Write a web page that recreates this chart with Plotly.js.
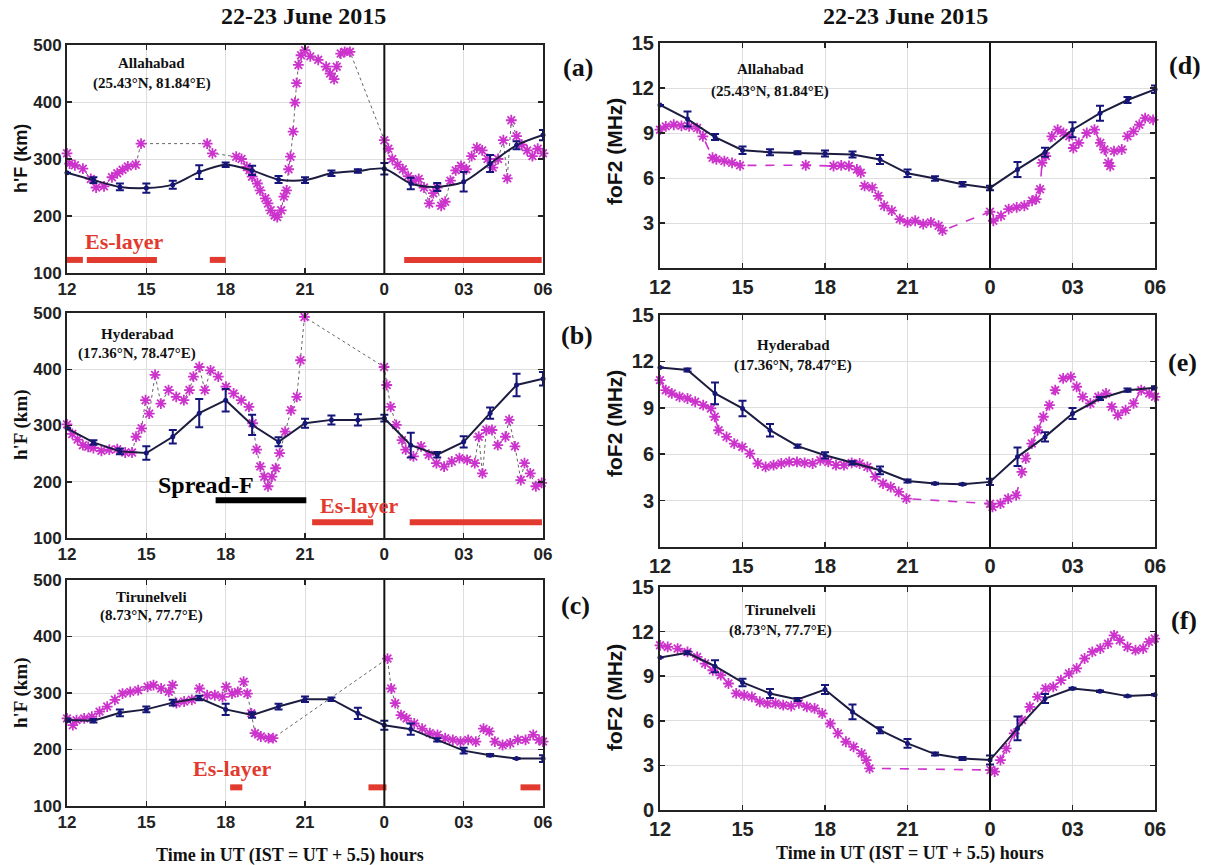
<!DOCTYPE html>
<html><head><meta charset="utf-8">
<script src="https://cdn.plot.ly/plotly-3.0.1.min.js"></script>
<style>html,body{margin:0;padding:0;background:#fff}#chart{width:1213px;height:865px}</style>
</head><body><div id="chart"></div>
<script>
// ---------------- DATA ----------------
const hours = [12,13,14,15,16,17,18,19,20,21,22,23,24,25,26,27,28,29,30];
const xTickVals = [12,15,18,21,24,27,30];
const xTickText = ['12','15','18','21','0','03','06'];
const hfTicks = [100,200,300,400,500];
const fo2TicksTop = [3,6,9,12,15];
const fo2TicksBottom = [0,3,6,9,12,15];

// (a) Allahabad h'F
const aMean = [276,263,251,249,255,277,290,280,264,263,275,279,283,257,251,260,292,324,342];
const aErr  = [0,5,6,8,7,12,4,8,6,5,5,3,10,10,7,17,15,7,9];
const aObsT = [12.0,12.1,12.3,12.6,12.9,13.1,13.4,13.7,13.9,14.1,14.3,14.6,14.8,17.3,17.5,
  18.4,18.6,18.8,18.9,19.0,19.2,19.3,19.5,19.6,19.7,19.85,19.95,20.1,20.2,20.3,20.38,20.45,20.55,20.62,20.68,
  20.75,20.85,21.0,21.2,21.5,21.8,21.95,22.1,22.2,22.35,22.5,22.7,
  24.0,24.15,24.3,24.5,24.7,24.9,25.1,25.3,25.5,25.7,25.85,26.0,26.15,26.3,26.5,26.7,26.9,27.1,27.3,27.5,
  27.7,27.9,28.1,28.3,28.5,28.65,28.8,29.0,29.2,29.4,29.6,29.8,30.0];
const aObsV = [310,292,289,283,265,250,252,268,275,281,287,290,327,327,310,
  304,300,286,280,269,257,245,231,222,210,201,198,210,234,245,282,304,348,399,433,
  465,482,491,480,474,462,450,440,462,485,488,488,
  333,318,300,290,282,270,262,265,250,222,240,250,218,225,262,280,288,282,305,320,
  315,300,285,300,333,266,368,340,325,315,305,318,310];
const aEsStart = [12.0,12.75,17.4,24.75];
const aEsEnd   = [12.6,15.4,18.0,29.95];

// (b) Hyderabad h'F
const bMean = [295,270,254,251,280,322,345,301,271,304,310,310,313,265,248,271,322,372,383];
const bErr  = [0,4,5,12,12,25,20,18,8,8,8,10,6,22,5,10,10,20,12];
const bObsT = [12.0,12.2,12.4,12.6,12.8,13.0,13.3,13.6,13.9,14.2,14.46,14.61,14.82,14.97,15.11,15.33,15.55,15.84,16.13,16.42,
  16.63,16.78,17.0,17.21,17.43,17.72,18.01,18.3,18.59,18.88,19.02,19.17,19.31,19.46,19.6,19.75,19.89,20.04,20.25,20.47,
  20.69,20.83,20.98,
  23.99,24.09,24.24,24.45,24.67,24.81,25.1,25.39,25.68,25.97,26.26,26.55,26.84,27.13,27.42,27.57,27.71,27.86,28.07,28.29,
  28.58,28.72,28.94,29.16,29.3,29.52,29.73,29.95];
const bObsV = [302,285,275,265,262,260,255,257,258,252,252,280,295,345,321,390,339,363,351,345,
  363,387,404,363,398,387,369,357,345,333,304,257,227,209,192,209,224,251,289,327,
  351,416,493,
  404,372,333,301,274,257,245,263,248,233,227,236,242,239,233,280,215,292,292,265,
  280,310,263,203,233,215,192,198];
const bEsStart = [21.27,24.96];
const bEsEnd   = [23.58,29.96];
const bSpreadFStart = [17.62];
const bSpreadFEnd   = [21.05];

// (c) Tirunelveli h'F
const cMean = [252,251,265,271,283,291,271,261,276,289,289,264,243,236,217,198,190,184,184];
const cErr  = [3,3,6,5,5,4,10,5,5,5,3,10,8,10,3,5,2,1,6];
const cObsT = [12.0,12.22,12.36,12.65,12.94,13.23,13.52,13.81,14.1,14.39,14.69,15.05,15.27,15.56,15.85,15.99,16.14,16.43,16.72,17.01,
  17.3,17.59,17.88,18.02,18.24,18.46,18.68,18.82,18.97,19.11,19.33,19.62,19.79,
  24.12,24.26,24.41,24.63,24.84,25.13,25.43,25.72,26.01,26.3,26.59,26.88,27.17,27.46,27.75,27.97,28.18,28.47,28.76,29.05,
  29.34,29.63,29.85,30.0];
const cObsV = [255,243,252,255,258,267,276,288,299,302,305,311,314,308,302,314,282,285,288,308,
  296,296,293,311,299,302,320,299,264,229,223,220,220,
  361,308,282,261,255,246,237,229,226,220,217,214,217,214,237,232,214,208,211,217,
  217,226,217,214];
const cEsStart = [18.17,23.4,29.15];
const cEsEnd   = [18.63,24.08,29.9];

// (d) Allahabad foF2
const dMean = [10.87,9.93,8.73,7.85,7.72,7.68,7.63,7.57,7.24,6.31,5.96,5.58,5.34,6.57,7.72,9.22,10.32,11.2,11.91];
const dErr  = [0,0.5,0.2,0.25,0.2,0.1,0.2,0.2,0.3,0.25,0.15,0.15,0.15,0.5,0.3,0.5,0.5,0.2,0.25];
const dObsT = [12.0,12.21,12.5,12.78,13.06,13.35,13.56,13.91,14.05,14.34,14.62,14.91,17.3,
  18.31,18.59,18.87,19.16,19.3,19.44,19.72,19.94,20.15,20.43,20.72,21.0,21.28,21.57,21.85,22.13,22.27,
  24.0,24.12,24.4,24.68,24.97,25.25,25.53,25.68,25.82,25.89,26.03,26.25,26.46,26.67,26.88,27.03,27.23,27.52,27.8,28.01,
  28.16,28.3,28.37,28.51,28.79,29.0,29.22,29.43,29.64,29.93];
const dObsV = [9.22,9.44,9.55,9.48,9.44,9.33,8.78,7.35,7.24,7.13,7.01,6.84,6.85,
  6.8,6.84,6.8,6.57,6.35,5.47,5.36,4.81,4.15,3.82,3.26,3.04,3.15,2.93,3.04,2.82,2.49,
  3.75,3.15,3.48,3.93,4.04,4.15,4.48,4.59,5.25,7.01,7.46,8.78,9.22,9.0,8.78,8.0,8.34,9.0,9.22,8.34,
  7.9,7.01,6.79,7.79,7.9,8.78,9.11,9.55,9.99,9.88];

// (e) Hyderabad foF2
const eMean = [11.61,11.44,9.93,8.96,7.55,6.52,5.93,5.44,4.96,4.27,4.1,4.06,4.21,5.83,7.12,8.63,9.6,10.14,10.29];
const eErr  = [0,0.1,0.7,0.5,0.4,0.1,0.2,0.1,0.25,0.1,0.05,0.05,0.2,0.6,0.3,0.35,0.1,0.1,0.1];
const eObsT = [12.0,12.21,12.43,12.71,13.0,13.28,13.57,13.85,13.99,14.13,14.42,14.7,14.99,15.27,15.56,15.84,16.13,16.41,
  16.7,16.98,17.26,17.55,17.83,18.12,18.4,18.69,18.97,19.26,19.54,19.83,20.11,20.39,20.68,20.96,
  24.0,24.09,24.38,24.66,24.95,25.16,25.3,25.52,25.73,25.94,26.16,26.37,26.66,26.94,27.15,27.37,27.65,27.94,28.22,28.43,
  28.65,28.93,29.22,29.5,29.79,30.0];
const eObsV = [10.79,10.14,9.93,9.71,9.6,9.39,9.17,8.96,8.42,7.55,7.12,6.69,6.47,6.04,5.4,5.18,5.29,5.4,
  5.5,5.5,5.44,5.4,5.61,5.5,5.29,5.29,5.44,5.4,5.18,4.53,4.1,3.88,3.56,3.13,
  2.8,2.59,2.8,3.13,3.34,4.86,5.72,6.69,7.55,8.42,9.17,10.14,10.9,11.0,10.36,9.71,9.28,9.71,9.93,9.06,
  8.53,8.85,9.28,10.14,9.93,9.71];

// (f) Tirunelveli foF2
const fMean = [10.25,10.57,9.67,8.58,7.84,7.43,8.1,6.6,5.37,4.48,3.76,3.47,3.36,5.49,7.5,8.17,7.99,7.66,7.75];
const fErr  = [0,0.1,0.4,0.25,0.3,0.1,0.3,0.5,0.2,0.3,0.1,0.1,0.3,0.8,0.3,0.05,0.05,0.05,0.05];
const fObsT = [12.0,12.28,12.64,13.0,13.35,13.64,13.92,14.21,14.49,14.77,15.06,15.34,15.63,15.91,16.2,16.48,16.77,17.05,
  17.34,17.62,17.9,18.19,18.47,18.76,19.04,19.33,19.5,19.62,
  24.02,24.17,24.38,24.59,24.88,25.16,25.45,25.73,26.02,26.3,26.58,26.87,27.15,27.44,27.72,28.01,28.29,28.51,28.72,29.0,
  29.29,29.57,29.78,29.99];
const fObsV = [11.08,10.97,10.86,10.63,10.3,9.85,9.4,9.07,8.51,7.84,7.72,7.61,7.28,7.17,7.17,7.05,6.99,7.17,
  6.94,6.83,6.49,5.82,5.15,4.59,4.25,3.81,3.36,2.8,
  2.69,2.58,3.36,4.14,5.15,6.05,6.94,7.61,8.17,8.28,8.73,9.18,9.52,10.19,10.63,10.86,11.19,11.75,11.42,10.97,
  10.75,10.86,11.31,11.53];

// ---------------- STYLE / LAYOUT ----------------
const W = 1213, H = 865;
const SERIF = 'Liberation Serif, Times New Roman, serif';
const SANS = 'Liberation Sans, Arial, sans-serif';
const MAG = '#cc33cc';
const NAVY = '#15157a';
const RED = '#e23a2e';
const px = x => x / W;
const py = y => 1 - y / H;

const panels = [
  {k:'', box:[67,543,45,273], mean:aMean, err:aErr, t:aObsT, v:aObsV, hf:true, smooth:true, station:['Allahabad','(25.43°N, 81.84°E)'], st:[15.2,468,433]},
  {k:'2', box:[67,543,313,538], mean:bMean, err:bErr, t:bObsT, v:bObsV, hf:true, station:['Hyderabad','(17.36°N, 78.47°E)'], st:[14.65,463,428]},
  {k:'3', box:[67,543,580,806], mean:cMean, err:cErr, t:cObsT, v:cObsV, hf:true, station:['Tirunelveli','(8.73°N, 77.7°E)'], st:[15.2,470,438]},
  {k:'4', box:[660,1155,43,268], mean:dMean, err:dErr, t:dObsT, v:dObsV, hf:false, ticks:fo2TicksTop, station:['Allahabad','(25.43°N, 81.84°E)'], st:[16.0,13.3,11.76]},
  {k:'5', box:[660,1155,315,547], mean:eMean, err:eErr, t:eObsT, v:eObsV, hf:false, ticks:fo2TicksTop, station:['Hyderabad','(17.36°N, 78.47°E)'], st:[16.84,13.06,11.76]},
  {k:'6', box:[660,1155,587,810], mean:fMean, err:fErr, t:fObsT, v:fObsV, hf:false, ticks:fo2TicksBottom, station:['Tirunelveli','(8.73°N, 77.7°E)'], st:[16.38,13.43,12.09]}
];

const traces = [];
const layout = {
  width: W, height: H, margin:{l:0,r:0,t:0,b:0},
  paper_bgcolor:'#fff', plot_bgcolor:'#fff', showlegend:false,
  shapes:[], annotations:[]
};

function segTrace(starts, ends, level, xa, ya, color, width){
  const x = [], y = [];
  for (let i = 0; i < starts.length; i++){ x.push(starts[i], ends[i], null); y.push(level, level, null); }
  return {x, y, xaxis:xa, yaxis:ya, mode:'lines', line:{color, width}, hoverinfo:'skip'};
}

panels.forEach(p => {
  const xa = 'x' + p.k, ya = 'y' + p.k;
  const b = p.box;
  const axCommon = {
    showline:true, linecolor:'#222', linewidth:2, mirror:'ticks',
    ticks:'inside', ticklen:5, tickwidth:1.5, tickcolor:'#222',
    showgrid:true, gridcolor:'#dedede', gridwidth:1, zeroline:false, fixedrange:true
  };
  layout['xaxis' + p.k] = Object.assign({}, axCommon, {
    domain:[px(b[0]), px(b[1])], anchor:ya, range:[12,30],
    tickmode:'array', tickvals:xTickVals, ticktext:xTickText,
    tickfont:{family:SANS, size:p.hf?17:20, weight:'bold', color:'#222'}
  });
  layout['yaxis' + p.k] = Object.assign({}, axCommon, {
    domain:[py(b[3]), py(b[2])], anchor:xa,
    range: p.hf ? [100,500] : [0,15],
    tickmode:'array', tickvals: p.hf ? hfTicks : p.ticks,
    tickfont:{family:SANS, size:p.hf?17:20, weight:'bold', color:'#222'}
  });
  // observed (magenta asterisks)
  traces.push({
    x:p.t, y:p.v, xaxis:xa, yaxis:ya, mode:'lines+markers', cliponaxis:false,
    line: p.hf ? {color:'#666', width:1, dash:'dot'} : {color:MAG, width:1.6, dash:'dash'},
    marker:{symbol:'asterisk-open', size:9, color:MAG, line:{color:MAG, width:1.8}}
  });
  // hourly mean with error bars
  traces.push({
    x:hours, y:p.mean, xaxis:xa, yaxis:ya, mode:'lines+markers', cliponaxis:false,
    line: p.smooth ? {color:'#1c1c40', width:2, shape:'spline', smoothing:0.8} : {color:'#1c1c40', width:2},
    marker:{symbol:'circle', size:5, color:NAVY},
    error_y:{type:'data', array:p.err, visible:true, color:NAVY, thickness:2, width:4}
  });
  // midnight line
  layout.shapes.push({type:'line', xref:xa, yref:ya + ' domain', x0:24, x1:24, y0:0, y1:1, line:{color:'#111', width:2}});
  // station labels
  layout.annotations.push({xref:xa, yref:ya, x:p.st[0], y:p.st[1], text:'<b>'+p.station[0]+'</b>', showarrow:false,
    font:{family:SERIF, size:15, color:'#111'}});
  layout.annotations.push({xref:xa, yref:ya, x:p.st[0], y:p.st[2], text:'<b>'+p.station[1]+'</b>', showarrow:false,
    font:{family:SERIF, size:15, color:'#111'}});
});

// Es-layer / Spread-F bars
traces.push(segTrace(aEsStart, aEsEnd, 123, 'x', 'y', RED, 6));
traces.push(segTrace(bEsStart, bEsEnd, 128, 'x2', 'y2', RED, 6));
traces.push(segTrace(bSpreadFStart, bSpreadFEnd, 167, 'x2', 'y2', '#000', 6));
traces.push(segTrace(cEsStart, cEsEnd, 133, 'x3', 'y3', RED, 6));

const ann = layout.annotations;
function paperText(x, y, text, size, family, angle, color){
  ann.push({xref:'paper', yref:'paper', x:px(x), y:py(y), xanchor:'center', yanchor:'middle',
    text:'<b>'+text+'</b>', showarrow:false, textangle:angle||0, font:{family, size, color:color||'#111'}});
}
// in-plot labels
ann.push({xref:'x', yref:'y', x:14.15, y:155, text:'<b>Es-layer</b>', showarrow:false, font:{family:SERIF, size:22, color:RED}});
ann.push({xref:'x2', yref:'y2', x:23.05, y:157, text:'<b>Es-layer</b>', showarrow:false, font:{family:SERIF, size:22, color:RED}});
ann.push({xref:'x2', yref:'y2', x:17.25, y:195, text:'<b>Spread-F</b>', showarrow:false, font:{family:SERIF, size:24, color:'#000'}});
ann.push({xref:'x3', yref:'y3', x:18.25, y:167, text:'<b>Es-layer</b>', showarrow:false, font:{family:SERIF, size:22, color:RED}});

// titles
paperText(303, 16, '22-23 June 2015', 24, SERIF);
paperText(905, 16, '22-23 June 2015', 24, SERIF);
// panel letters
paperText(578, 67, '(a)', 26, SERIF);
paperText(577, 335, '(b)', 26, SERIF);
paperText(575, 605, '(c)', 26, SERIF);
paperText(1185, 65, '(d)', 26, SERIF);
paperText(1182, 362, '(e)', 26, SERIF);
paperText(1184, 620, '(f)', 26, SERIF);
// y titles
paperText(21, 159, "h'F (km)", 18, SANS, -90);
paperText(21, 425, "h'F (km)", 19, SERIF, -90);
paperText(21, 693, "h'F (km)", 19, SERIF, -90);
paperText(614, 152, 'foF2 (MHz)', 21, SANS, -90);
paperText(614, 424, 'foF2 (MHz)', 21, SANS, -90);
paperText(614, 698, 'foF2 (MHz)', 21, SANS, -90);
// x titles
paperText(290, 855, 'Time in UT (IST = UT + 5.5) hours', 18, SERIF);
paperText(910, 853, 'Time in UT (IST = UT + 5.5) hours', 18, SERIF);

Plotly.newPlot('chart', traces, layout, {displayModeBar:false, staticPlot:true});
</script>
</body></html>
